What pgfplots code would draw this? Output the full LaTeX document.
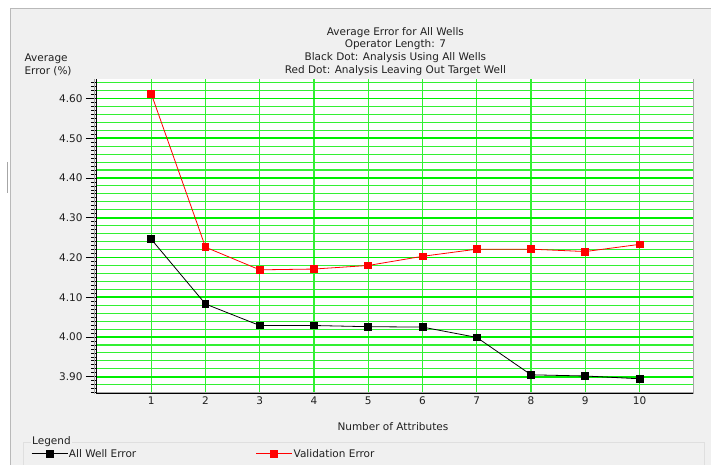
\documentclass[border=0pt]{standalone}
\usepackage{pgfplots}
\pgfplotsset{compat=1.18}
\usepackage{fontspec}
\setmainfont{DejaVu Sans}
\definecolor{panel}{HTML}{F0F0F0}
\definecolor{gmaj}{HTML}{00EE00}
\definecolor{gmin}{HTML}{33F033}
\definecolor{txt}{HTML}{202020}
\begin{document}
\begin{tikzpicture}[font=\fontsize{10.5bp}{12.8bp}\selectfont, text=txt]
\fill[white] (0bp,0bp) rectangle (711bp,465bp);
\fill[panel] (10bp,0bp) rectangle (711bp,457bp);
\draw[gray!55] (10bp,0bp) -- (10bp,457bp) -- (711bp,457bp);
\draw[gray!70] (7bp,303bp) -- (7bp,272bp);
\draw[gray!25] (23bp,0bp) -- (23bp,23bp) -- (704bp,23bp) -- (704bp,0bp);
\node[anchor=west, fill=panel, inner sep=1bp] at (31bp,23.3bp) {Legend};
\node[align=center] at (395.5bp,413.5bp) {Average Error for All Wells\\Operator Length: 7\\Black Dot: Analysis Using All Wells\\Red Dot: Analysis Leaving Out Target Well};
\node[align=left, anchor=west] at (21bp,400.5bp) {Average\\Error (\%)};
\node at (393bp,38bp) {Number of Attributes};
% grid-only axis
\begin{axis}[
  at={(97bp,71bp)}, anchor=south west,
  scale only axis, width=597bp, height=315bp,
  xmin=0, xmax=11, ymin=3.857, ymax=4.649,
  axis background/.style={fill=white},
  axis line style={draw=none},
  xtick={1,2,3,4,5,6,7,8,9,10}, xticklabels={},
  ytick={3.86,3.88,3.92,3.94,3.96,3.98,4.02,4.04,4.06,4.08,4.12,4.14,4.16,4.18,4.22,4.24,4.26,4.28,4.32,4.34,4.36,4.38,4.42,4.44,4.46,4.48,4.52,4.54,4.56,4.58,4.62,4.64}, yticklabels={},
  tick style={draw=none},
  xmajorgrids, ymajorgrids,
  major grid style={gmin, line width=1.1bp},
]
\end{axis}
\begin{axis}[
  name=ax,
  at={(97bp,71bp)}, anchor=south west,
  scale only axis, width=597bp, height=315bp,
  xmin=0, xmax=11, ymin=3.857, ymax=4.649,
  axis line style={draw=none},
  /pgf/number format/assume math mode=true,
  xtick={1,2,3,4,5,6,7,8,9,10},
  xtick pos=bottom,
  xtick style={draw=none},
  xticklabel style={font=\fontsize{10.5bp}{12bp}\selectfont, text=txt, yshift=12bp},
  ytick={3.9,4.0,4.1,4.2,4.3,4.4,4.5,4.6},
  minor ytick={3.86,3.87,3.88,3.89,3.91,3.92,3.93,3.94,3.95,3.96,3.97,3.98,3.99,4.01,4.02,4.03,4.04,4.05,4.06,4.07,4.08,4.09,4.11,4.12,4.13,4.14,4.15,4.16,4.17,4.18,4.19,4.21,4.22,4.23,4.24,4.25,4.26,4.27,4.28,4.29,4.31,4.32,4.33,4.34,4.35,4.36,4.37,4.38,4.39,4.41,4.42,4.43,4.44,4.45,4.46,4.47,4.48,4.49,4.51,4.52,4.53,4.54,4.55,4.56,4.57,4.58,4.59,4.61,4.62,4.63,4.64},
  ytick pos=left,
  tick align=outside,
  major tick length=11bp, minor tick length=6bp,
  ytick style={black, line width=0.8bp},
  ymajorgrids,
  major grid style={gmaj, line width=1.8bp},
  yticklabel style={font=\fontsize{10.5bp}{12bp}\selectfont, text=txt, /pgf/number format/.cd, fixed, fixed zerofill, precision=2, assume math mode=true},
  legend style={at={(-0.1106,-0.1905)}, anchor=west, draw=none, fill=none, inner sep=0pt, legend columns=2, nodes={inner sep=1bp, font=\fontsize{10.5bp}{12bp}\selectfont, text=txt}},
  legend cell align=left,
  legend image code/.code={\draw[mark repeat=2,mark phase=2,#1] plot coordinates {(0bp,0bp) (18bp,0bp) (36bp,0bp)};},
]
\addplot[black, line width=0.8bp, mark=square*, mark size=3.4bp, mark options={solid, fill=black}] coordinates {
(1,4.246) (2,4.083) (3,4.029) (4,4.029) (5,4.026) (6,4.025) (7,3.999) (8,3.905) (9,3.902) (10,3.895)};
\addlegendentry{\makebox[186bp][l]{All Well Error}}
\addplot[red, line width=0.8bp, mark=square*, mark size=3.4bp, mark options={solid, fill=red}] coordinates {
(1,4.612) (2,4.226) (3,4.169) (4,4.171) (5,4.180) (6,4.203) (7,4.221) (8,4.221) (9,4.215) (10,4.233)};
\addlegendentry{Validation Error}
\end{axis}
\draw[gray!70, line width=1bp] ([xshift=-2bp]ax.south west) -- ([xshift=-2bp]ax.north west);
\draw[black, line width=1bp] (ax.south west) -- (ax.north west);
\draw[gray!70, line width=1bp] ([yshift=1.5bp]ax.south west) -- ([yshift=1.5bp]ax.south east);
\draw[black, line width=1bp] (ax.south west) -- (ax.south east);
\draw[gray!70, line width=1bp] (ax.south east) -- (ax.north east);
\end{tikzpicture}
\end{document}
